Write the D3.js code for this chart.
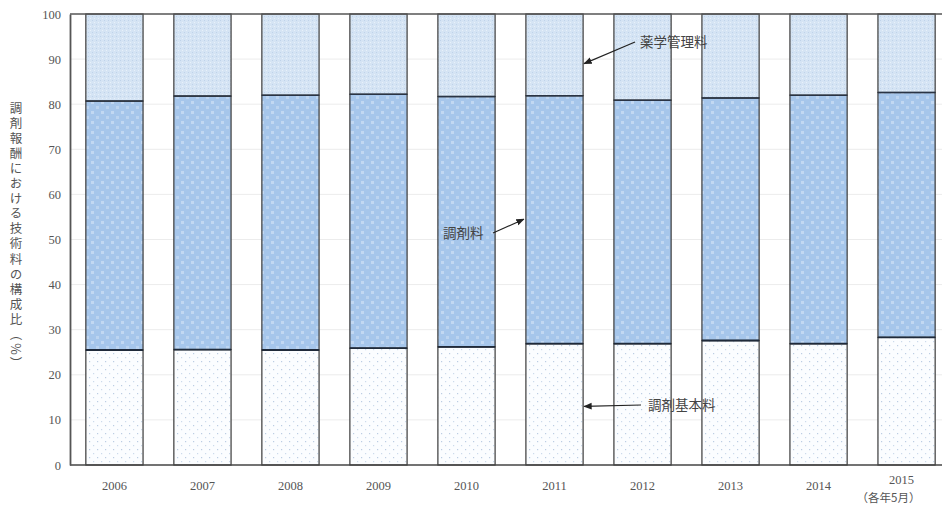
<!DOCTYPE html>
<html><head><meta charset="utf-8">
<script src="https://cdn.jsdelivr.net/npm/d3@7"></script>
<style>
html,body{margin:0;padding:0;background:#fff;}
svg{display:block;}
</style>
</head><body>
<div id="chart"></div>
<script>
const years = ["2006","2007","2008","2009","2010","2011","2012","2013","2014","2015"];
const kihon = [25.5, 25.6, 25.5, 25.9, 26.2, 26.9, 26.9, 27.6, 26.9, 28.3];   // 調剤基本料
const chozai = [55.2, 56.2, 56.5, 56.3, 55.5, 55.0, 54.0, 53.8, 55.1, 54.3];  // 調剤料
const kanri = [19.3, 18.2, 18.0, 17.8, 18.3, 18.1, 19.1, 18.6, 18.0, 17.4];   // 薬学管理料
const seriesNames = ["調剤基本料","調剤料","薬学管理料"];
const yTicks = [0,10,20,30,40,50,60,70,80,90,100];

const W = 942, H = 511;
const mLeft = 70, mTop = 14, mBottom = 465;

const svg = d3.select("#chart").append("svg").attr("width", W).attr("height", H);
const defs = svg.append("defs");

// patterns
const p1 = defs.append("pattern").attr("id","pBase").attr("width",8).attr("height",8).attr("patternUnits","userSpaceOnUse");
p1.append("rect").attr("width",8).attr("height",8).attr("fill","#fbfdff");
p1.append("rect").attr("x",1).attr("y",1).attr("width",1.2).attr("height",1.2).attr("fill","#bccde3");
p1.append("rect").attr("x",5).attr("y",5).attr("width",1.2).attr("height",1.2).attr("fill","#ccdaeb");

const p2 = defs.append("pattern").attr("id","pMid").attr("width",10).attr("height",10).attr("patternUnits","userSpaceOnUse");
p2.append("rect").attr("width",10).attr("height",10).attr("fill","#a6c6eb");
p2.append("rect").attr("x",1).attr("y",1).attr("width",3).attr("height",3).attr("fill","#c2d8f2");
p2.append("rect").attr("x",6).attr("y",6).attr("width",3).attr("height",3).attr("fill","#bcd4f0");

const p3 = defs.append("pattern").attr("id","pTop").attr("width",4).attr("height",4).attr("patternUnits","userSpaceOnUse");
p3.append("rect").attr("width",4).attr("height",4).attr("fill","#d5e4f4");
p3.append("rect").attr("x",0).attr("y",0).attr("width",1).attr("height",1).attr("fill","#bfd3ea");
p3.append("rect").attr("x",2).attr("y",2).attr("width",1).attr("height",1).attr("fill","#e8f1fa");

const x = d3.scaleBand().domain(years).range([mLeft, 951]).paddingInner(0.35).paddingOuter(0.18);
const y = d3.scaleLinear().domain([0,100]).range([mBottom, mTop]);

// gridlines
svg.append("g").selectAll("line").data(yTicks.filter(d=>d>0 && d<100)).join("line")
  .attr("x1", mLeft).attr("x2", W).attr("y1", d=>y(d)).attr("y2", d=>y(d))
  .attr("stroke","#ececec").attr("stroke-width",1);

// stacked data
const rows = years.map((yr,i)=>({year:yr, "調剤基本料":kihon[i], "調剤料":chozai[i], "薬学管理料":kanri[i]}));
const stack = d3.stack().keys(seriesNames)(rows);
const fills = {"調剤基本料":"url(#pBase)","調剤料":"url(#pMid)","薬学管理料":"url(#pTop)"};

stack.forEach(s=>{
  svg.append("g").selectAll("rect").data(s).join("rect")
    .attr("x", d=>x(d.data.year)).attr("width", x.bandwidth())
    .attr("y", d=>y(Math.min(d[1],100))).attr("height", d=>y(d[0]) - y(Math.min(d[1],100)))
    .attr("fill", fills[s.key]).attr("stroke","#3a3a3a").attr("stroke-width",1.2);
});
// darker boundaries between segments
svg.append("g").selectAll("line").data(stack[0]).join("line")
  .attr("x1", d=>x(d.data.year)).attr("x2", d=>x(d.data.year)+x.bandwidth())
  .attr("y1", d=>y(d[1])).attr("y2", d=>y(d[1])).attr("stroke","#1f2a3a").attr("stroke-width",1.8);
svg.append("g").selectAll("line").data(stack[1]).join("line")
  .attr("x1", d=>x(d.data.year)).attr("x2", d=>x(d.data.year)+x.bandwidth())
  .attr("y1", d=>y(d[1])).attr("y2", d=>y(d[1])).attr("stroke","#2a3444").attr("stroke-width",1.5);

// frame lines
svg.append("line").attr("x1",mLeft).attr("x2",W).attr("y1",y(100)).attr("y2",y(100)).attr("stroke","#555").attr("stroke-width",1.5);
svg.append("line").attr("x1",mLeft).attr("x2",W).attr("y1",y(0)).attr("y2",y(0)).attr("stroke","#444").attr("stroke-width",1.5);

// y axis
const yAxis = svg.append("g").attr("transform",`translate(${mLeft},0)`)
  .call(d3.axisLeft(y).tickValues(yTicks).tickSize(0).tickPadding(9));
yAxis.select(".domain").attr("stroke","#555").attr("stroke-width",1.8);
yAxis.selectAll("text").attr("font-family","'Liberation Serif', serif").attr("font-size",12.5).attr("fill","#555");

// x axis labels
const xAxis = svg.append("g").attr("transform",`translate(0,${mBottom})`)
  .call(d3.axisBottom(x).tickSize(0).tickPadding(16));
xAxis.select(".domain").remove();
xAxis.selectAll("text").attr("font-family","'Liberation Serif', serif").attr("font-size",12.5).attr("fill","#555");
xAxis.selectAll(".tick").filter(d=>d==="2015").select("text").attr("dy","0.2em").attr("dx","-5");

svg.append("text").attr("x", x("2015")+x.bandwidth()/2-18).attr("y", 502).attr("text-anchor","middle")
  .attr("font-family","'Noto Sans CJK JP', sans-serif").attr("font-size",11.5).attr("fill","#555").text("（各年5月）");

// y label (vertical)
svg.append("text").attr("x",16).attr("y",237)
  .attr("text-anchor","middle")
  .style("writing-mode","vertical-rl")
  .attr("font-family","'Noto Sans CJK JP', sans-serif").attr("font-size",12.5).attr("letter-spacing","2.6px")
  .attr("fill","#555").text("調剤報酬における技術料の構成比（%）");

// annotations
defs.append("marker").attr("id","arr").attr("viewBox","0 0 10 10").attr("refX",9).attr("refY",5)
  .attr("markerWidth",7).attr("markerHeight",7).attr("orient","auto-start-reverse")
  .append("path").attr("d","M0,1 L10,5 L0,9 Z").attr("fill","#222");

const x11L = x("2011"), x11R = x("2011")+x.bandwidth();
const ann = [
  {text:"薬学管理料", tx:640, ty:47, x1:635, y1:42, x2:x11R+1, y2:y(89)},
  {text:"調剤料", tx:443, ty:238, x1:493, y1:233, x2:x11L-2, y2:y(54.5)},
  {text:"調剤基本料", tx:648, ty:410, x1:641, y1:405, x2:x11R+1, y2:y(13)}
];
ann.forEach(a=>{
  svg.append("line").attr("x1",a.x1).attr("y1",a.y1).attr("x2",a.x2).attr("y2",a.y2)
    .attr("stroke","#222").attr("stroke-width",1.2).attr("marker-end","url(#arr)");
  svg.append("text").attr("x",a.tx).attr("y",a.ty)
    .attr("font-family","'Noto Sans CJK JP', sans-serif").attr("font-size",13.5).attr("fill","#444").text(a.text);
});
</script>
</body></html>
